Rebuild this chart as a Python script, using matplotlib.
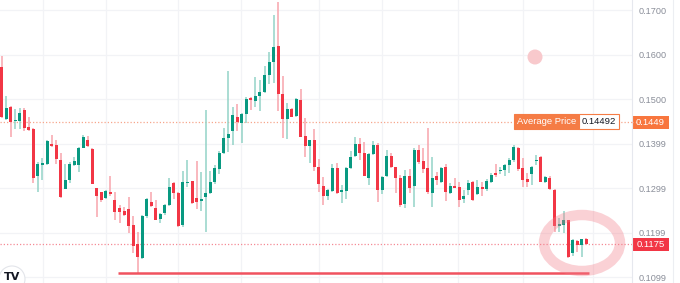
import matplotlib.pyplot as plt
from matplotlib.patches import Rectangle, Ellipse

opens = [0.1571, 0.1455, 0.1481, 0.1450, 0.1451, 0.1475, 0.1437, 0.1432, 0.1326, 0.1352,
         0.1355, 0.1400, 0.1397, 0.1364, 0.1298, 0.1317, 0.1352, 0.1352, 0.1391, 0.1408,
         0.1388, 0.1299, 0.1290, 0.1277, 0.1292, 0.1273, 0.1254, 0.1249, 0.1252, 0.1217,
         0.1174, 0.1142, 0.1236, 0.1268, 0.1254, 0.1230, 0.1243, 0.1262, 0.1311, 0.1288,
         0.1217, 0.1312, 0.1316, 0.1277, 0.1270, 0.1279, 0.1288, 0.1313, 0.1343, 0.1378,
         0.1413, 0.1427, 0.1459, 0.1445, 0.1466, 0.1502, 0.1496, 0.1507, 0.1516, 0.1554,
         0.1584, 0.1619, 0.1511, 0.1455, 0.1477, 0.1462, 0.1498, 0.1417, 0.1395, 0.1408,
         0.1347, 0.1305, 0.1281, 0.1294, 0.1344, 0.1292, 0.1294, 0.1346, 0.1372, 0.1400,
         0.1378, 0.1323, 0.1377, 0.1397, 0.1296, 0.1327, 0.1373, 0.1348, 0.1322, 0.1264,
         0.1326, 0.1305, 0.1385, 0.1361, 0.1344, 0.1288, 0.1327, 0.1314, 0.1348, 0.1288,
         0.1305, 0.1302, 0.1275, 0.1296, 0.1314, 0.1287, 0.1302, 0.1297, 0.1314, 0.1334,
         0.1338, 0.1340, 0.1352, 0.1363, 0.1389, 0.1346, 0.1320, 0.1332, 0.1361, 0.1370,
         0.1314, 0.1323, 0.1296, 0.1215, 0.1217, 0.1227, 0.1153, 0.1181, 0.1173, 0.1186]
highs = [0.1597, 0.1507, 0.1484, 0.1477, 0.1479, 0.1479, 0.1459, 0.1434, 0.1359, 0.1367,
         0.1408, 0.1419, 0.1408, 0.1378, 0.1355, 0.1359, 0.1370, 0.1393, 0.1419, 0.1417,
         0.1389, 0.1301, 0.1292, 0.1296, 0.1327, 0.1292, 0.1262, 0.1257, 0.1279, 0.1236,
         0.1202, 0.1239, 0.1277, 0.1292, 0.1273, 0.1243, 0.1264, 0.1322, 0.1314, 0.1290,
         0.1339, 0.1363, 0.1316, 0.1361, 0.1335, 0.1475, 0.1339, 0.1352, 0.1384, 0.1435,
         0.1563, 0.1481, 0.1489, 0.1468, 0.1504, 0.1504, 0.1550, 0.1543, 0.1574, 0.1606,
         0.1689, 0.1717, 0.1552, 0.1492, 0.1479, 0.1502, 0.1522, 0.1457, 0.1408, 0.1433,
         0.1365, 0.1324, 0.1297, 0.1355, 0.1357, 0.1307, 0.1348, 0.1384, 0.1415, 0.1413,
         0.1403, 0.1378, 0.1406, 0.1402, 0.1326, 0.1385, 0.1378, 0.1348, 0.1329, 0.1340,
         0.1342, 0.1389, 0.1397, 0.1390, 0.1435, 0.1369, 0.1335, 0.1348, 0.1353, 0.1312,
         0.1322, 0.1314, 0.1296, 0.1318, 0.1316, 0.1318, 0.1314, 0.1320, 0.1334, 0.1355,
         0.1348, 0.1355, 0.1367, 0.1397, 0.1393, 0.1367, 0.1333, 0.1350, 0.1374, 0.1372,
         0.1326, 0.1326, 0.1297, 0.1232, 0.1249, 0.1228, 0.1186, 0.1183, 0.1186, 0.1187]
lows = [0.1458, 0.1453, 0.1415, 0.1432, 0.1432, 0.1429, 0.1428, 0.1312, 0.1290, 0.1318,
        0.1352, 0.1393, 0.1355, 0.1278, 0.1297, 0.1312, 0.1350, 0.1335, 0.1389, 0.1393,
        0.1308, 0.1234, 0.1269, 0.1275, 0.1281, 0.1227, 0.1222, 0.1237, 0.1198, 0.1153,
        0.1109, 0.1140, 0.1232, 0.1258, 0.1227, 0.1222, 0.1239, 0.1260, 0.1275, 0.1212,
        0.1213, 0.1302, 0.1264, 0.1252, 0.1248, 0.1200, 0.1287, 0.1309, 0.1332, 0.1377,
        0.1382, 0.1397, 0.1429, 0.1402, 0.1447, 0.1475, 0.1481, 0.1472, 0.1513, 0.1534,
        0.1537, 0.1472, 0.1412, 0.1409, 0.1459, 0.1460, 0.1414, 0.1370, 0.1357, 0.1339,
        0.1290, 0.1262, 0.1272, 0.1292, 0.1287, 0.1267, 0.1275, 0.1342, 0.1370, 0.1364,
        0.1326, 0.1307, 0.1375, 0.1269, 0.1287, 0.1324, 0.1344, 0.1288, 0.1258, 0.1254,
        0.1288, 0.1258, 0.1355, 0.1333, 0.1286, 0.1257, 0.1306, 0.1311, 0.1271, 0.1287,
        0.1299, 0.1257, 0.1267, 0.1284, 0.1271, 0.1284, 0.1283, 0.1294, 0.1311, 0.1324,
        0.1332, 0.1326, 0.1333, 0.1359, 0.1339, 0.1303, 0.1302, 0.1307, 0.1351, 0.1313,
        0.1311, 0.1296, 0.1200, 0.1200, 0.1198, 0.1142, 0.1148, 0.1157, 0.1146, 0.1173]
closes = [0.1459, 0.1479, 0.1449, 0.1453, 0.1468, 0.1435, 0.1430, 0.1322, 0.1355, 0.1357,
          0.1406, 0.1395, 0.1365, 0.1279, 0.1317, 0.1354, 0.1361, 0.1389, 0.1415, 0.1395,
          0.1309, 0.1281, 0.1273, 0.1294, 0.1286, 0.1245, 0.1247, 0.1239, 0.1215, 0.1170,
          0.1144, 0.1237, 0.1275, 0.1260, 0.1228, 0.1241, 0.1262, 0.1303, 0.1288, 0.1215,
          0.1314, 0.1314, 0.1267, 0.1269, 0.1275, 0.1288, 0.1314, 0.1344, 0.1378, 0.1412,
          0.1421, 0.1463, 0.1448, 0.1466, 0.1499, 0.1498, 0.1507, 0.1516, 0.1554, 0.1583,
          0.1616, 0.1511, 0.1454, 0.1477, 0.1460, 0.1499, 0.1415, 0.1395, 0.1408, 0.1347,
          0.1308, 0.1282, 0.1296, 0.1344, 0.1288, 0.1296, 0.1346, 0.1369, 0.1399, 0.1379,
          0.1327, 0.1377, 0.1397, 0.1296, 0.1324, 0.1373, 0.1347, 0.1322, 0.1262, 0.1327,
          0.1301, 0.1385, 0.1358, 0.1343, 0.1290, 0.1322, 0.1318, 0.1346, 0.1290, 0.1305,
          0.1301, 0.1272, 0.1281, 0.1312, 0.1272, 0.1303, 0.1297, 0.1316, 0.1329, 0.1329,
          0.1340, 0.1351, 0.1363, 0.1393, 0.1342, 0.1318, 0.1314, 0.1348, 0.1364, 0.1314,
          0.1324, 0.1297, 0.1215, 0.1219, 0.1227, 0.1146, 0.1183, 0.1173, 0.1186, 0.1175]

tick_values = [0.1700, 0.1600, 0.1500, 0.1399, 0.1299, 0.1199, 0.1099]
tick_labels = ["0.1700", "0.1600", "0.1500", "0.1399", "0.1299", "0.1199", "0.1099"]
avg_price = 0.14492
last_price = 0.1175
support = 0.1109
support_from, support_to = 25.7, 129.6

GREEN, RED = "#089981", "#f23645"
GREEN_WICK, RED_WICK = "#93d3c7", "#f8a4ac"

W, H = 680, 283
fig = plt.figure(figsize=(W / 100, H / 100), dpi=100)
ax = fig.add_axes([0, 0, 632 / W, 1])
ax.set_xlim(-0.375, 139.1)
ax.set_ylim(0.10865, 0.17225)


def fx(x):
    return x / W


def fy(y):
    return 1 - y / H


# grid
for v in tick_values:
    ax.axhline(v, color="#f2f3f6", lw=0.9, zorder=0)
for v in [9.1, 23.0, 38.9, 52.8, 70.0, 83.9, 100.7, 115.1, 130.5]:
    ax.axvline(v, color="#f2f3f6", lw=0.9, zorder=0)

# candles
for i in range(len(opens)):
    o, h, l, c = opens[i], highs[i], lows[i], closes[i]
    up = c >= o
    ax.vlines(i, l, h, color=GREEN_WICK if up else RED_WICK, lw=1.1, zorder=2)
    ax.bar(i, max(abs(c - o), 0.00018), bottom=min(o, c), width=0.66,
           color=GREEN if up else RED, lw=0, zorder=3)

# level lines
ax.axhline(avg_price, color="#f7a68c", lw=0.9, ls=(0, (1, 1.6)), zorder=1)
ax.axhline(last_price, color="#f58a95", lw=0.9, ls=(0, (1, 1.6)), zorder=1)
ax.hlines(support, support_from, support_to, color="#f0525f", lw=1.8, zorder=4)

for s in ax.spines.values():
    s.set_visible(False)
ax.set_xticks([])
ax.yaxis.tick_right()
ax.set_yticks(tick_values)
ax.set_yticklabels(tick_labels, fontsize=6.6, color="#8a8e99", family="Liberation Sans")
ax.tick_params(axis="y", length=0, pad=4.5)

# price axis border
fig.add_artist(plt.Line2D([fx(632), fx(632)], [0, 1], color="#e6e8ee", lw=0.8))
fig.add_artist(plt.Line2D([fx(673), fx(673)], [0, 1], color="#eceef2", lw=0.8))
fig.add_artist(plt.Line2D([fx(632), fx(640)], [fy(122), fy(122)], color="#f7a68c", lw=0.9, ls=(0, (1, 1.6))))

# average price label
fig.add_artist(Rectangle((fx(514), fy(129.5)), 65 / W, 15.5 / H, transform=fig.transFigure,
                         facecolor="#f57c45", edgecolor="#f57c45", lw=0.8))
fig.add_artist(Rectangle((fx(579), fy(129.5)), 40 / W, 15.5 / H, transform=fig.transFigure,
                         facecolor="white", edgecolor="#f57c45", lw=0.8))
fig.text(fx(546.5), fy(121.8), "Average Price", color="white", fontsize=6.8,
         family="Liberation Sans", ha="center", va="center")
fig.text(fx(599), fy(121.8), "0.14492", color="#131722", fontsize=6.8,
         family="Liberation Sans", ha="center", va="center")

# axis price tags
fig.add_artist(Rectangle((fx(632), fy(128.5)), 37 / W, 12.5 / H, transform=fig.transFigure,
                         facecolor="#f8763e", lw=0))
fig.text(fx(650.5), fy(122.2), "0.1449", color="white", fontsize=6.8,
         family="Liberation Sans", ha="center", va="center")
fig.add_artist(Rectangle((fx(632), fy(250.5)), 37 / W, 12.5 / H, transform=fig.transFigure,
                         facecolor=RED, lw=0))
fig.text(fx(650.5), fy(244.2), "0.1175", color="white", fontsize=6.8,
         family="Liberation Sans", ha="center", va="center")

# drawings
fig.add_artist(Ellipse((fx(535), fy(57)), 15 / W, 15 / H, transform=fig.transFigure,
                       facecolor="#f8c9cc", lw=0))
fig.add_artist(Ellipse((fx(582), fy(243)), 76 / W, 56 / H, angle=0, transform=fig.transFigure,
                       fill=False, edgecolor="#f27c88", alpha=0.35, lw=7.5))

# logo
fig.add_artist(Ellipse((fx(12), fy(279)), 26 / W, 26 / H, transform=fig.transFigure,
                       facecolor="white", edgecolor="#e3e5ea", lw=0.8))
fig.text(fx(12), fy(277), "TV", color="#131722", fontsize=8, fontweight="bold",
         ha="center", va="center")

fig.savefig("out.png", dpi=100)
